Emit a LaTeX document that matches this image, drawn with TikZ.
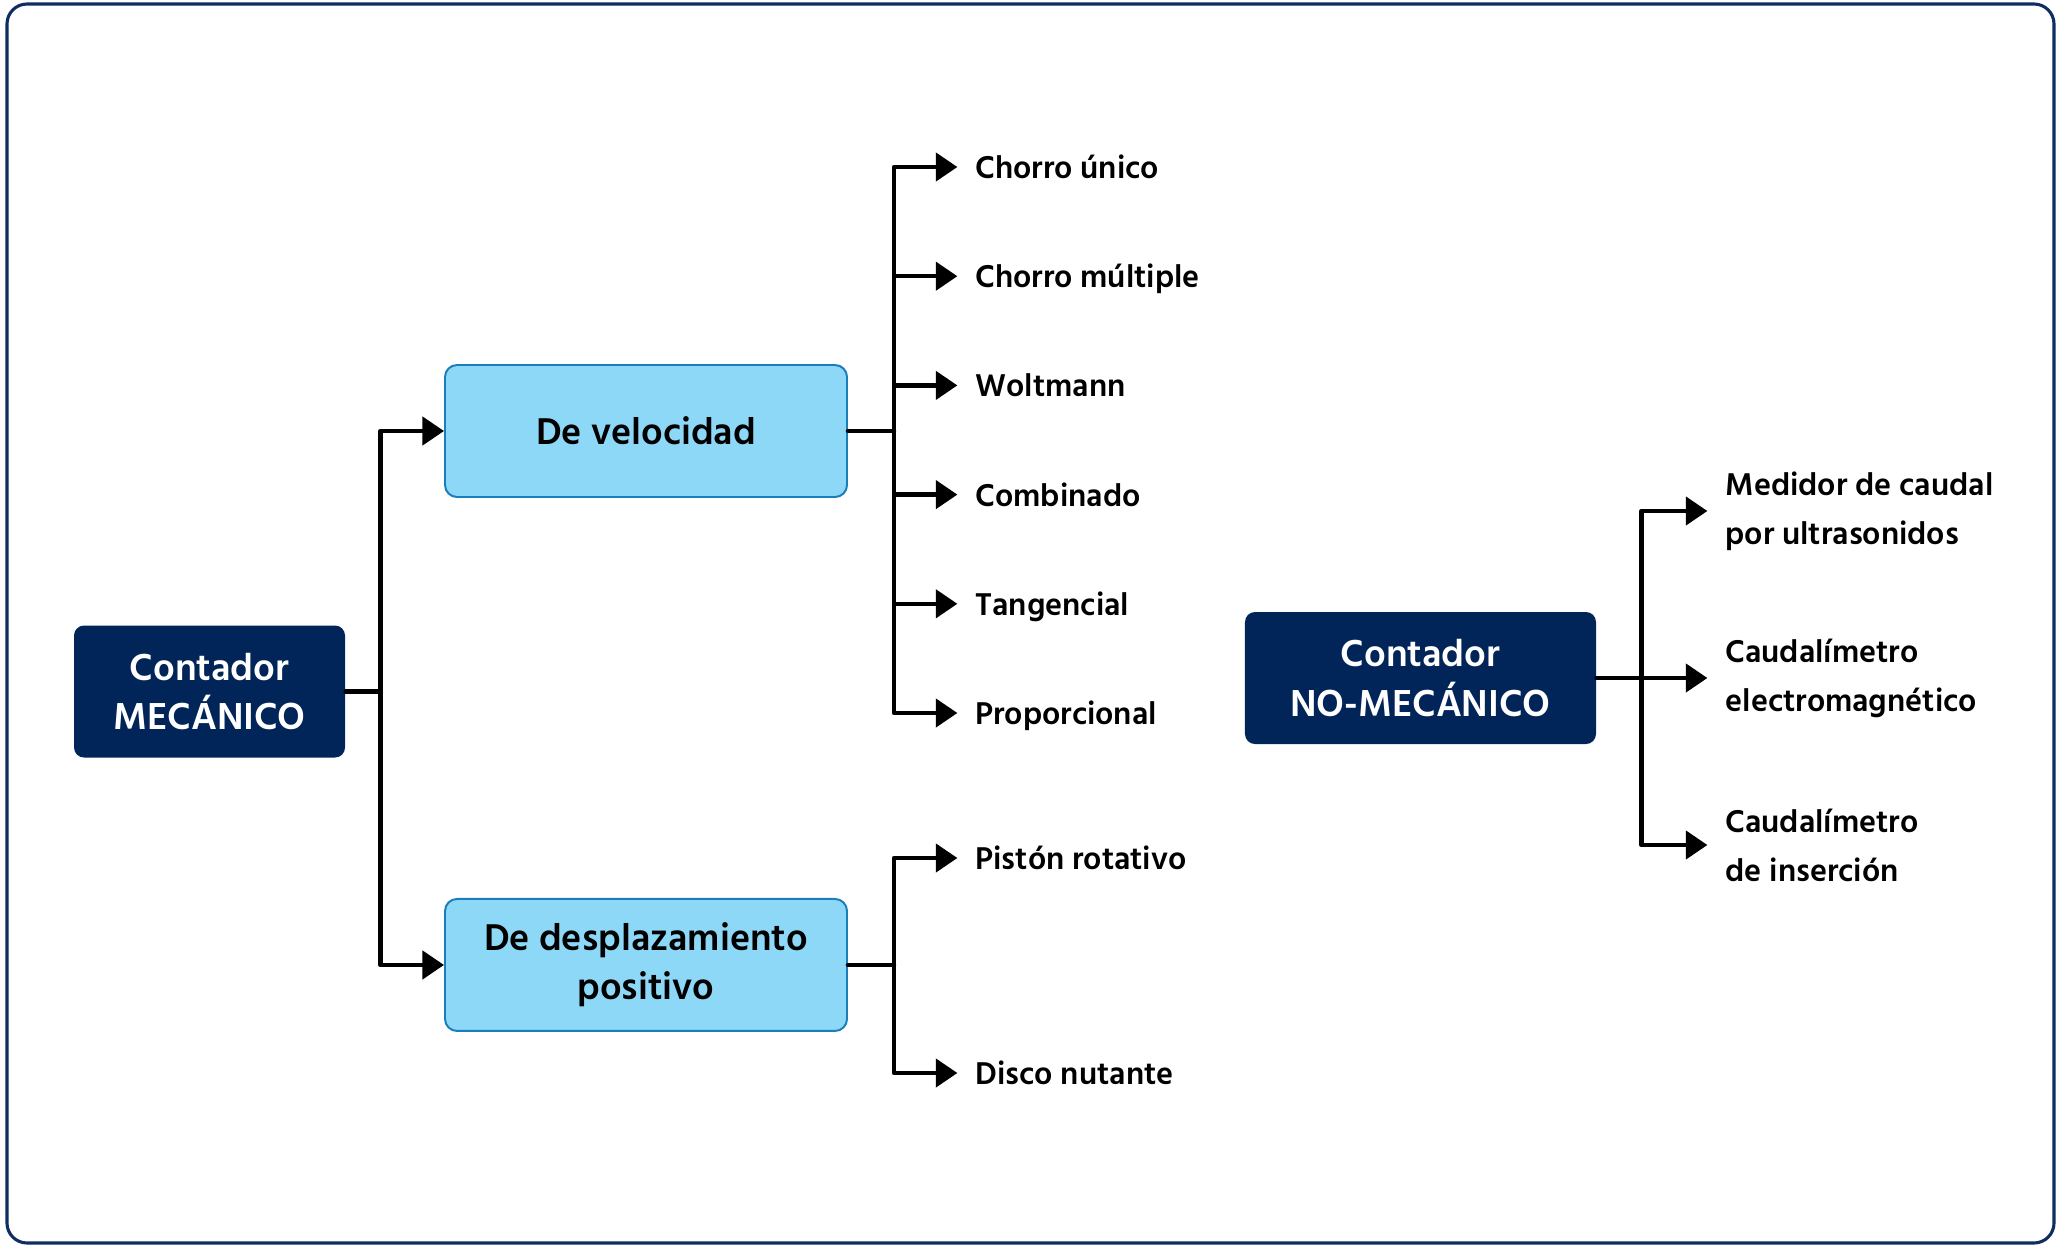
\documentclass[tikz,border=0pt]{standalone}
\usepackage{fontspec}
\setmainfont{Hind Siliguri}
\usepackage{xcolor}
\usepackage{tikz}
\usetikzlibrary{arrows.meta,positioning,calc}
\definecolor{navy}{HTML}{022559}
\definecolor{skyfill}{HTML}{8ED8F7}
\definecolor{skyline}{HTML}{1A7DBC}
\definecolor{framecol}{HTML}{0E2D61}

\begin{document}
\begin{tikzpicture}[
  dbox/.style={fill=navy, text=white, rounded corners=0.125cm, align=center,
    font=\fontsize{13.7}{17.5}\selectfont\bfseries, minimum height=1.65cm},
  lbox/.style={draw=skyline, line width=0.7pt, fill=skyfill, rounded corners=0.15cm,
    align=center, font=\fontsize{13.6}{17.4}\selectfont\bfseries,
    minimum width=5.025cm, minimum height=1.65cm},
  leaf/.style={inner sep=0pt, anchor=west, font=\fontsize{11.5}{17.4}\selectfont\bfseries,
    text height=8.2pt, text depth=0pt},
  leaftwo/.style={inner sep=0pt, anchor=west, align=left,
    font=\fontsize{11.5}{17.4}\selectfont\bfseries},
  link/.style={line width=1.6pt, line cap=round, line join=round},
  arr/.style={link, -{Triangle[length=0.27cm, width=0.35cm]}},
  leafarr/.style={arr, shorten >=0.22cm}
]
  \useasboundingbox (0,0) rectangle (25.75,-15.5875);
  \draw[framecol, line width=1.1pt, rounded corners=0.25cm]
    (0.0875,-0.05) rectangle (25.675,-15.5375);

  % main boxes
  \node[dbox, minimum width=3.3875cm] (mech) at (2.619,-8.644) {Contador\\MECÁNICO};
  \node[lbox] (vel) at (8.075,-5.3875) {De velocidad};
  \node[lbox, below=5cm of vel] (desp) {De desplazamiento\\positivo};
  \node[dbox, minimum width=4.3875cm] (nomech) at (17.756,-8.475) {Contador\\NO-MECÁNICO};

  % leaves
  \node[leaf] (chu) at (12.1875,-2.0875) {Chorro único};
  \node[leaf, below=1.365cm of chu.west, anchor=west] (chm) {Chorro múltiple};
  \node[leaf, below=1.365cm of chm.west, anchor=west] (wol) {Woltmann};
  \node[leaf, below=1.365cm of wol.west, anchor=west] (com) {Combinado};
  \node[leaf, below=1.365cm of com.west, anchor=west] (tan) {Tangencial};
  \node[leaf, below=1.365cm of tan.west, anchor=west] (pro) {Proporcional};
  \node[leaf] (pist) at (12.1875,-10.725) {Pistón rotativo};
  \node[leaf, below=2.6875cm of pist.west, anchor=west] (disc) {Disco nutante};
  \node[leaftwo] (elec) at (21.5625,-8.475) {Caudalímetro\\electromagnético};
  \node[leaftwo, above=2.0875cm of elec.west, anchor=west] (med) {Medidor de caudal\\por ultrasonidos};
  \node[leaftwo, below=2.0875cm of elec.west, anchor=west] (ins) {Caudalímetro\\de inserción};

  % connectors
  \coordinate (jm) at ($(mech.east)+(0.4375,0)$);
  \draw[link] (mech.east) -- (jm);
  \draw[arr] (jm) |- (vel.west);
  \draw[arr] (jm) |- (desp.west);

  \coordinate (jv) at ($(vel.east)+(0.575,0)$);
  \draw[link] (vel.east) -- (jv);
  \foreach \n in {chu,chm,wol,com,tan,pro}
    \draw[leafarr] (jv) |- (\n.west);

  \coordinate (jd) at ($(desp.east)+(0.575,0)$);
  \draw[link] (desp.east) -- (jd);
  \foreach \n in {pist,disc}
    \draw[leafarr] (jd) |- (\n.west);

  \coordinate (jn) at ($(nomech.east)+(0.5625,0)$);
  \draw[link] (nomech.east) -- (jn);
  \foreach \n in {med,elec,ins}
    \draw[leafarr] (jn) |- (\n.west);
\end{tikzpicture}
\end{document}
